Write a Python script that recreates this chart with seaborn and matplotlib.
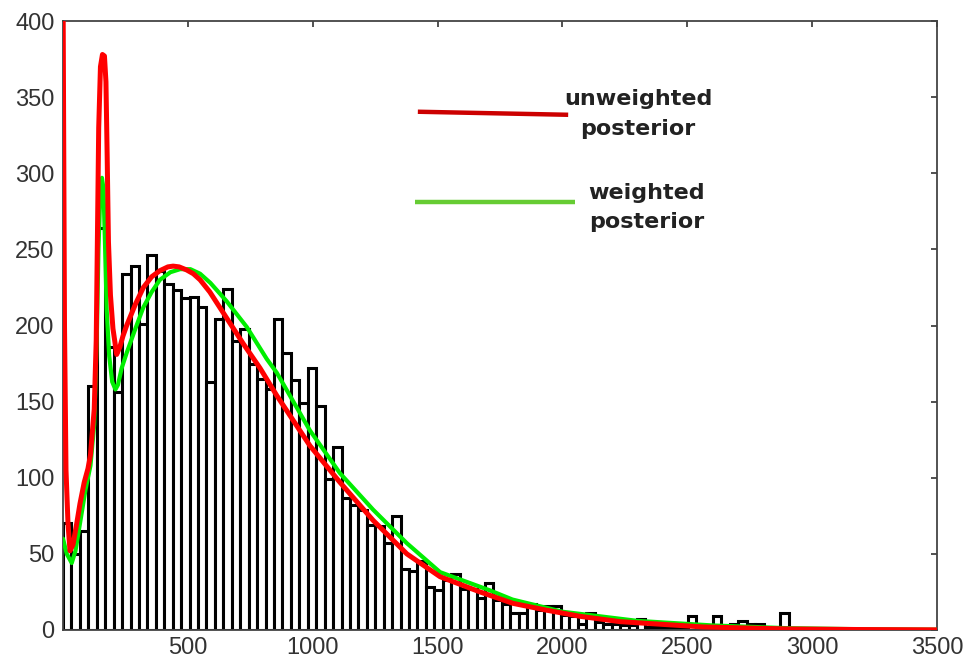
import numpy as np
import pandas as pd
import matplotlib
matplotlib.use("Agg")
import matplotlib.pyplot as plt
import seaborn as sns

# ---- data ----
bin_width = 33.8
counts = [70, 50, 65, 160, 264, 186, 156, 234, 239, 201,
          246, 236, 227, 223, 218, 219, 212, 163, 204, 224,
          190, 198, 175, 165, 158, 204, 182, 164, 149, 172,
          147, 99, 120, 87, 82, 79, 69, 68, 57, 75,
          40, 39, 45, 28, 26, 33, 37, 27, 27, 21,
          31, 20, 17, 11, 11, 17, 13, 16, 16, 10,
          9, 4, 11, 5, 4, 4, 3, 3, 7, 2,
          2, 2, 1, 1, 9, 1, 0, 9, 0, 4,
          6, 4, 4, 0, 0, 11]

red_x = [0, 6, 12, 20, 28, 40, 55, 68, 85, 100, 110, 125, 133, 138, 143, 150,
         158, 166, 172, 177, 182, 190, 200, 215, 228, 240, 255, 290, 322, 355,
         388, 420, 441, 465, 495, 522, 549, 588, 655, 722, 789, 856, 989, 1109,
         1242, 1377, 1510, 1670, 1802, 1937, 2070, 2230, 2563, 2900, 3200, 3500]
red_y = [430, 200, 105, 70, 52, 56, 70, 83, 97, 106, 115, 145, 190, 260, 330, 370,
         378, 377, 360, 310, 255, 220, 198, 181, 186, 193, 200, 214, 225, 232,
         236, 238.5, 239, 238.5, 236.5, 234, 230, 222, 205, 188, 172, 154, 121, 97,
         72, 50, 35, 25, 17.5, 13, 9, 5.5, 2, 0.7, 0.3, 0.1]

green_x = [0, 15, 35, 50, 68, 90, 110, 125, 135, 142, 150, 156, 162, 168, 175,
           185, 197, 210, 220, 235, 255, 290, 322, 355, 388, 430, 469, 510,
           549, 590, 655, 736, 816, 856, 989, 1109, 1242, 1377, 1510, 1710,
           1800, 2000, 2300, 2600, 2900, 3200, 3500]
green_y = [60, 50, 44, 52, 70, 92, 108, 135, 190, 250, 290, 297, 290, 255, 210,
           180, 163, 158, 161, 172, 182, 198, 212, 222, 230, 235, 237, 237,
           234, 228, 216, 199, 178, 169, 131, 103, 79, 57, 38, 26,
           20, 12, 6, 3, 1.2, 0.5, 0.2]

x_ticks = [500, 1000, 1500, 2000, 2500, 3000, 3500]
y_ticks = [0, 50, 100, 150, 200, 250, 300, 350, 400]
label_unweighted = "unweighted\nposterior"
label_weighted = "weighted\nposterior"

# ---- figure ----
sns.set_style("white")
plt.rcParams['font.family'] = ['Liberation Sans', 'DejaVu Sans']

fig = plt.figure(figsize=(9.68, 6.63), dpi=100)
ax = fig.add_axes([63 / 968, 33 / 663, 874 / 968, 609 / 663])

edges = [i * bin_width for i in range(len(counts) + 1)]
centers = [(edges[i] + edges[i + 1]) / 2 for i in range(len(counts))]
hist_df = pd.DataFrame({"center": centers, "count": counts})
sns.histplot(data=hist_df, x="center", weights="count", bins=edges, ax=ax,
             color="white", edgecolor="black", linewidth=2.2, alpha=1,
             fill=True, zorder=1)

sns.lineplot(x=green_x, y=green_y, ax=ax, color="#00ee00", linewidth=3.0,
             estimator=None, sort=False, zorder=3)
sns.lineplot(x=red_x, y=red_y, ax=ax, color="#ff0000", linewidth=3.6,
             estimator=None, sort=False, zorder=4)

ax.set_xlim(0, 3500)
ax.set_ylim(0, 400)
ax.set_xticks(x_ticks)
ax.set_yticks(y_ticks)
ax.set_xlabel("")
ax.set_ylabel("")
ax.tick_params(direction="in", length=4.5, width=1.2, top=True, right=True,
               labelsize=17, colors="#333333", pad=6)
ax.tick_params(axis="x", pad=5)
for s in ax.spines.values():
    s.set_visible(True)
    s.set_color("#444444")
    s.set_linewidth(1.3)
ax.grid(False)

# annotation "legend"
ax.plot([0.406, 0.578], [0.851, 0.846], transform=ax.transAxes,
        color="#cc0000", linewidth=3.2, solid_capstyle="butt", zorder=5)
ax.text(0.658, 0.847, label_unweighted, transform=ax.transAxes,
        ha="center", va="center", fontsize=16, fontweight="bold",
        family="DejaVu Sans", color="#222222", linespacing=1.6, zorder=5)
ax.plot([0.403, 0.586], [0.703, 0.703], transform=ax.transAxes,
        color="#66cc33", linewidth=3.2, solid_capstyle="butt", zorder=5)
ax.text(0.668, 0.694, label_weighted, transform=ax.transAxes,
        ha="center", va="center", fontsize=16, fontweight="bold",
        family="DejaVu Sans", color="#222222", linespacing=1.6, zorder=5)

fig.savefig("out.png", dpi=100, facecolor="white")
